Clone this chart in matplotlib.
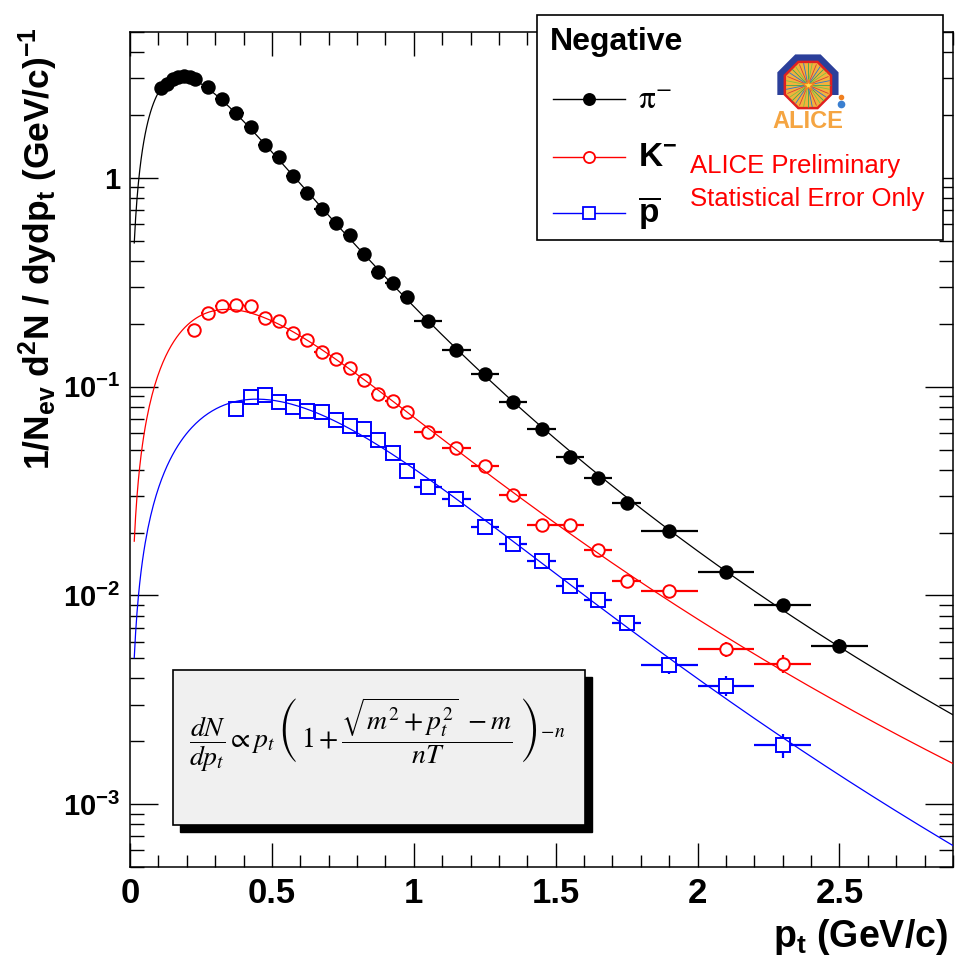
import numpy as np
import matplotlib
matplotlib.use('Agg')
import matplotlib.pyplot as plt
from matplotlib.patches import Rectangle, RegularPolygon
from matplotlib.lines import Line2D
from matplotlib.ticker import MultipleLocator, LogLocator, NullFormatter

plt.rcParams['font.family'] = ['Liberation Sans', 'DejaVu Sans']
plt.rcParams['mathtext.fontset'] = 'custom'
plt.rcParams['mathtext.rm'] = 'Liberation Sans'
plt.rcParams['mathtext.it'] = 'Liberation Sans:italic'
plt.rcParams['mathtext.bf'] = 'Liberation Sans:bold'

# pi-  (pt in GeV/c, half bin width, yield, relative stat error)
pion_pt = [0.11, 0.13, 0.15, 0.17, 0.19, 0.21, 0.23,
           0.275, 0.325, 0.375, 0.425, 0.475, 0.525, 0.575, 0.625, 0.675,
           0.725, 0.775, 0.825, 0.875, 0.925, 0.975,
           1.05, 1.15, 1.25, 1.35, 1.45, 1.55, 1.65, 1.75,
           1.9, 2.1, 2.3, 2.5]
pion_dpt = [0.01, 0.01, 0.01, 0.01, 0.01, 0.01, 0.01,
            0.025, 0.025, 0.025, 0.025, 0.025, 0.025, 0.025, 0.025, 0.025,
            0.025, 0.025, 0.025, 0.025, 0.025, 0.025,
            0.05, 0.05, 0.05, 0.05, 0.05, 0.05, 0.05, 0.05,
            0.1, 0.1, 0.1, 0.1]
pion_y = [2.70, 2.82, 2.98, 3.05, 3.08, 3.06, 2.98,
          2.73, 2.38, 2.04, 1.75, 1.44, 1.26, 1.02, 0.85, 0.71,
          0.61, 0.53, 0.43, 0.355, 0.315, 0.27,
          0.206, 0.150, 0.115, 0.0844, 0.063, 0.0462, 0.0364, 0.0276,
          0.0203, 0.0129, 0.00902, 0.00575]
pion_err = [0.01, 0.01, 0.01, 0.01, 0.01, 0.01, 0.01,
            0.01, 0.01, 0.01, 0.01, 0.01, 0.01, 0.01, 0.01, 0.01,
            0.01, 0.01, 0.01, 0.01, 0.01, 0.01,
            0.01, 0.01, 0.01, 0.01, 0.015, 0.015, 0.02, 0.02,
            0.02, 0.03, 0.05, 0.08]

# K-
kaon_pt = [0.225, 0.275, 0.325, 0.375, 0.425, 0.475, 0.525, 0.575, 0.625,
           0.675, 0.725, 0.775, 0.825, 0.875, 0.925, 0.975,
           1.05, 1.15, 1.25, 1.35, 1.45, 1.55, 1.65, 1.75,
           1.9, 2.1, 2.3]
kaon_dpt = [0.025, 0.025, 0.025, 0.025, 0.025, 0.025, 0.025, 0.025, 0.025,
            0.025, 0.025, 0.025, 0.025, 0.025, 0.025, 0.025,
            0.05, 0.05, 0.05, 0.05, 0.05, 0.05, 0.05, 0.05,
            0.1, 0.1, 0.1]
kaon_y = [0.186, 0.226, 0.243, 0.246, 0.243, 0.214, 0.206, 0.181, 0.168,
          0.147, 0.136, 0.123, 0.108, 0.0925, 0.085, 0.0755,
          0.0606, 0.051, 0.0419, 0.0303, 0.0217, 0.0217, 0.0165, 0.0117,
          0.0105, 0.00554, 0.0047]
kaon_err = [0.015, 0.015, 0.015, 0.015, 0.015, 0.015, 0.015, 0.015, 0.015,
            0.015, 0.015, 0.015, 0.015, 0.015, 0.015, 0.015,
            0.02, 0.025, 0.03, 0.035, 0.04, 0.05, 0.05, 0.06,
            0.06, 0.08, 0.10]

# anti-proton
prot_pt = [0.375, 0.425, 0.475, 0.525, 0.575, 0.625, 0.675, 0.725, 0.775,
           0.825, 0.875, 0.925, 0.975,
           1.05, 1.15, 1.25, 1.35, 1.45, 1.55, 1.65, 1.75,
           1.9, 2.1, 2.3]
prot_dpt = [0.025, 0.025, 0.025, 0.025, 0.025, 0.025, 0.025, 0.025, 0.025,
            0.025, 0.025, 0.025, 0.025,
            0.05, 0.05, 0.05, 0.05, 0.05, 0.05, 0.05, 0.05,
            0.1, 0.1, 0.1]
prot_y = [0.078, 0.089, 0.091, 0.0844, 0.080, 0.0767, 0.0755, 0.0694, 0.0649,
          0.0626, 0.0556, 0.048, 0.0395,
          0.0332, 0.029, 0.0213, 0.0176, 0.0146, 0.0111, 0.00953, 0.00736,
          0.00464, 0.00369, 0.00192]
prot_err = [0.02, 0.02, 0.02, 0.02, 0.02, 0.02, 0.02, 0.02, 0.02,
            0.02, 0.02, 0.02, 0.02,
            0.03, 0.03, 0.04, 0.05, 0.05, 0.06, 0.07, 0.08,
            0.09, 0.11, 0.13]

masses = {'pion': 0.1396, 'kaon': 0.4937, 'prot': 0.9383}


def levy(pt, n, T, m):
    return pt * (1 + (np.sqrt(m**2 + pt**2) - m) / (n * T))**(-n)


def fit_levy(pt, y, m):
    # crude grid fit in log space, amplitude solved analytically
    pt = np.asarray(pt)[None, None, :]
    ly = np.log(np.asarray(y))[None, None, :]
    n = np.linspace(3, 40, 371)[:, None, None]
    T = np.linspace(0.04, 0.45, 411)[None, :, None]
    r = ly - np.log(levy(pt, n, T, m))
    la = r.mean(axis=2, keepdims=True)
    chi = ((r - la)**2).sum(axis=2)
    i, j = np.unravel_index(np.argmin(chi), chi.shape)
    return n[i, 0, 0], T[0, j, 0], np.exp(la[i, j, 0])


W, H = 961, 965
def fx(px): return px / W
def fy(py): return 1 - py / H

fig = plt.figure(figsize=(9.61, 9.65), dpi=100)
ax = fig.add_axes([fx(130), fy(867), (953 - 130) / W, (867 - 32) / H])

series = [
    (pion_pt, pion_dpt, pion_y, pion_err, masses['pion'], 'black', 'o', 'black', 9),
    (kaon_pt, kaon_dpt, kaon_y, kaon_err, masses['kaon'], '#ff0000', 'o', 'white', 9),
    (prot_pt, prot_dpt, prot_y, prot_err, masses['prot'], '#0000ff', 's', 'white', 9.5),
]
ptc = np.linspace(0.015, 2.9, 600)
for pt, dpt, y, err, m, col, mk, fc, ms in series:
    yv = np.array(y)
    ax.errorbar(pt, yv, xerr=dpt, yerr=yv * np.array(err), fmt=mk, color=col,
                mfc=fc, mec=col, ms=ms, mew=1.4, elinewidth=1.6, capsize=0,
                zorder=2)
    n, T, A = fit_levy(pt, y, m)
    ax.plot(ptc, A * levy(ptc, n, T, m), color=col, lw=0.9, zorder=3)

ax.set_yscale('log')
ax.set_xlim(0, 2.9)
ax.set_ylim(5e-4, 5)
ax.set_xticks([0, 0.5, 1, 1.5, 2, 2.5], labels=['0', '0.5', '1', '1.5', '2', '2.5'])
ax.xaxis.set_minor_locator(MultipleLocator(0.1))
ax.set_yticks([1e-3, 1e-2, 1e-1, 1],
              labels=[r'$\mathbf{10^{-3}}$', r'$\mathbf{10^{-2}}$', r'$\mathbf{10^{-1}}$', '1'])
ax.yaxis.set_minor_locator(LogLocator(base=10, subs=np.arange(2, 10) * 1.0, numticks=20))
ax.yaxis.set_minor_formatter(NullFormatter())
ax.tick_params(which='both', direction='in', top=True, right=True, width=1)
ax.tick_params(axis='x', which='major', length=17, pad=7, labelsize=25)
ax.tick_params(axis='x', which='minor', length=9)
ax.tick_params(axis='y', which='major', length=20, pad=7, labelsize=21)
ax.tick_params(axis='y', which='minor', length=10)
for lab in ax.get_xticklabels() + ax.get_yticklabels():
    lab.set_fontweight('bold')
for s in ax.spines.values():
    s.set_linewidth(1.1)

ax.set_ylabel(r'$\mathbf{1/N_{ev}\ d^{2}N\ /\ dydp_{t}\ (GeV/c)^{-1}}$',
              fontsize=25.5, loc='top')
ax.yaxis.set_label_coords(-0.085, 1.006)
ax.set_xlabel(r'$\mathbf{p_{t}\ (GeV/c)}$', fontsize=27, loc='right')
ax.xaxis.set_label_coords(0.994, -0.06)

# formula box with shadow
fig.add_artist(Rectangle((fx(180), fy(832)), (412) / W, (155) / H,
                         transform=fig.transFigure, facecolor='black',
                         edgecolor='black', zorder=4))
fig.add_artist(Rectangle((fx(173), fy(825)), (412) / W, (155) / H,
                         transform=fig.transFigure, facecolor='#f0f0f0',
                         edgecolor='black', lw=1.2, zorder=5))
fig.text(fx(377), fy(735),
         r'$\dfrac{dN}{dp_{t}}\propto p_{t}\,\left(\,\mathit{1}+\dfrac{\sqrt{m^{2}+p_{t}^{2}}\ -m}{nT}\ \right)^{-n}$',
         math_fontfamily='stix', fontsize=20, ha='center', va='center', zorder=6)

# legend box
fig.add_artist(Rectangle((fx(537), fy(240)), (943 - 537) / W, (240 - 15) / H,
                         transform=fig.transFigure, facecolor='white',
                         edgecolor='black', lw=1.2, zorder=4))
fig.text(fx(550), fy(42), 'Negative', fontsize=23, fontweight='bold',
         ha='left', va='center', zorder=6)
leg_rows = [(99, 'black', 'o', 'black', r'$\mathrm{\pi}^{-}$', 'stix'),
            (157, '#ff0000', 'o', 'white', r'$\mathbf{K^{-}}$', 'custom'),
            (213, '#0000ff', 's', 'white', r'$\mathbf{\overline{p}}$', 'custom')]
for py, col, mk, fc, lab, mf in leg_rows:
    fig.add_artist(Line2D([fx(553), fx(625)], [fy(py), fy(py)],
                          transform=fig.transFigure, color=col, lw=1, zorder=5))
    fig.add_artist(Line2D([fx(589)], [fy(py)], transform=fig.transFigure,
                          marker=mk, ms=8, mfc=fc, mec=col, mew=1.3,
                          color=col, zorder=6))
    fig.text(fx(638), fy(py), lab, fontsize=24, math_fontfamily=mf,
             ha='left', va='center', zorder=6)
fig.text(fx(690), fy(166), 'ALICE Preliminary', color='#ff0000',
         fontsize=18.5, ha='left', va='center', zorder=6)
fig.text(fx(690), fy(199), 'Statistical Error Only', color='#ff0000',
         fontsize=18.5, ha='left', va='center', zorder=6)

# rough ALICE logo
lg = fig.add_axes([fx(762), fy(145), 100 / W, 100 / H], zorder=7)
lg.set_xlim(-1.6, 1.6)
lg.set_ylim(-1.6, 1.6)
lg.axis('off')
cx, cy = -0.13, 0.32
lg.add_patch(RegularPolygon((cx, cy), 8, radius=1.06, orientation=np.pi / 8,
                            facecolor='#2b3f9a', edgecolor='none'))
lg.add_patch(Rectangle((-1.6, -1.2), 3.2, 1.2, facecolor='white', edgecolor='none'))
lg.add_patch(RegularPolygon((cx, cy), 8, radius=0.8, orientation=np.pi / 8,
                            facecolor='#f2b23c', edgecolor='#e02020', lw=1.8))
ang = np.linspace(0, 2 * np.pi, 32, endpoint=False)
cols = ['#3aa655', '#2d6fd1', '#d93a3a', '#7fc241']
for k, a in enumerate(ang):
    lg.plot([cx, cx + 0.7 * np.cos(a)], [cy, cy + 0.7 * np.sin(a)],
            color=cols[k % 4], lw=0.6)
lg.plot([cx], [cy], marker='*', ms=9, color='#ffe24a', mec='#f08020')
lg.plot([0.92], [-0.05], marker='o', ms=3, color='#f08020')
lg.plot([0.92], [-0.3], marker='o', ms=4.5, color='#3a7fd0')
lg.text(cx, -0.86, 'ALICE', color='#f5a542', fontsize=17, fontweight='bold',
        ha='center', va='center')

fig.savefig('out.png', dpi=100)
